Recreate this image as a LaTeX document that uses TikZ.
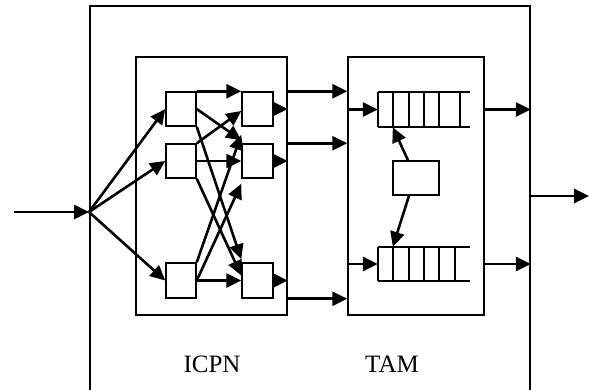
\documentclass[tikz,border=0pt]{standalone}
\usepackage{fontspec}
\setmainfont{Liberation Serif}
\usetikzlibrary{arrows.meta,calc}
\begin{document}
\begin{tikzpicture}[x=1pt,y=-1pt,
  box/.style={draw,line width=1.5pt,rectangle,inner sep=0pt,minimum width=#1},
  arr/.style={line width=2.6pt,-{Triangle[length=15pt,width=14pt]}},
  lbl/.style={font=\fontsize{25}{28}\selectfont,inner sep=0pt}]
\useasboundingbox (0,0) rectangle (590,389);
\clip (0,0) rectangle (590,389);
% outer box
\node[box=440pt,minimum height=414pt,line width=1.6pt] (outer) at (310,213) {};
% ICPN and TAM boxes
\node[box=151pt,minimum height=258pt] (icpn) at (211.5,186) {};
\node[box=136pt,minimum height=258pt] (tam) at (416,186) {};
% switch boxes
\node[box=30pt,minimum height=34pt] (L1) at (181,109) {};
\node[box=30pt,minimum height=34pt] (L2) at (181,161) {};
\node[box=30pt,minimum height=35pt] (L3) at (181,280.5) {};
\node[box=31pt,minimum height=34pt] (R1) at (257.5,109) {};
\node[box=31pt,minimum height=34pt] (R2) at (257.5,161) {};
\node[box=31pt,minimum height=35pt] (R3) at (257.5,280.5) {};
% controller
\node[box=46pt,minimum height=34pt] (ctrl) at (416,178) {};
% queues
\node[minimum width=92pt,minimum height=35pt,inner sep=0pt] (q1) at (424,109.5) {};
\node[minimum width=92pt,minimum height=34pt,inner sep=0pt] (q2) at (424,264) {};
\draw[line width=1.5pt] (q1.north west) -- (q1.north east) (q1.south west) -- (q1.south east)
  foreach \x in {378,393,409,424,439,460} {(\x,92) -- (\x,127)};
\draw[line width=1.5pt] (q2.north west) -- (q2.north east) (q2.south west) -- (q2.south east)
  foreach \x in {378,393,409,424,439,455} {(\x,247) -- (\x,281)};
% input and fan-out
\coordinate (in0) at (14,212);
\coordinate (fan) at (89,212);
\draw[arr] (in0) -- (fan);
\draw[arr] (fan) -- (L1.west);
\draw[arr] (fan) -- (L2.west);
\draw[arr] (fan) -- (L3.west);
% interconnections
\draw[arr] (L1.north east) -- (R1.north west);
\draw[arr] (L1.east) -- ($(R2.north west)+(0,-3)$);
\draw[arr] (L1.south east) -- ($(R3.north west)+(0,-3)$);
\draw[arr] (L2.north east) -- ($(R1.west)+(0,2)$);
\draw[arr] (L2.east) -- (R2.west);
\draw[arr] (L2.south east) -- ($(R3.west)+(0,-5)$);
\draw[arr] (L3.north east) -- ($(R1.south west)+(0,8)$);
\draw[arr] (L3.east) -- ($(R2.south west)+(0,5)$);
\draw[arr] (L3.east) -- (R3.west);
% ICPN outputs
\draw[arr] (R1.east) -- (icpn.east |- R1.east);
\draw[arr] (R2.east) -- (icpn.east |- R2.east);
\draw[arr] (R3.east) -- (icpn.east |- R3.east);
% ICPN -> TAM
\draw[arr] (icpn.east |- L1.north) -- (tam.west |- L1.north);
\draw[arr] (icpn.east |- L2.north) -- (tam.west |- L2.north);
\draw[arr] (icpn.east |- L3.south) -- (tam.west |- L3.south);
% into queues
\draw[arr] (tam.west |- q1.west) -- (q1.west);
\draw[arr] (tam.west |- q2.west) -- (q2.west);
% controller
\draw[arr] ($(ctrl.north)+(-8,0)$) -- ($(q1.south west)+(15,0)$);
\draw[arr] ($(ctrl.south)+(-7,0)$) -- ($(q2.north west)+(15,0)$);
% TAM outputs
\draw[arr] (tam.east |- q1.west) -- (outer.east |- q1.west);
\draw[arr] (tam.east |- q2.west) -- (outer.east |- q2.west);
% system output
\coordinate (out1) at (589,196);
\draw[arr] (outer.east |- out1) -- (out1);
% labels
\node[lbl] (licpn) at (212,364) {ICPN};
\node[lbl] (ltam) at (392,364) {TAM};
\end{tikzpicture}
\end{document}
